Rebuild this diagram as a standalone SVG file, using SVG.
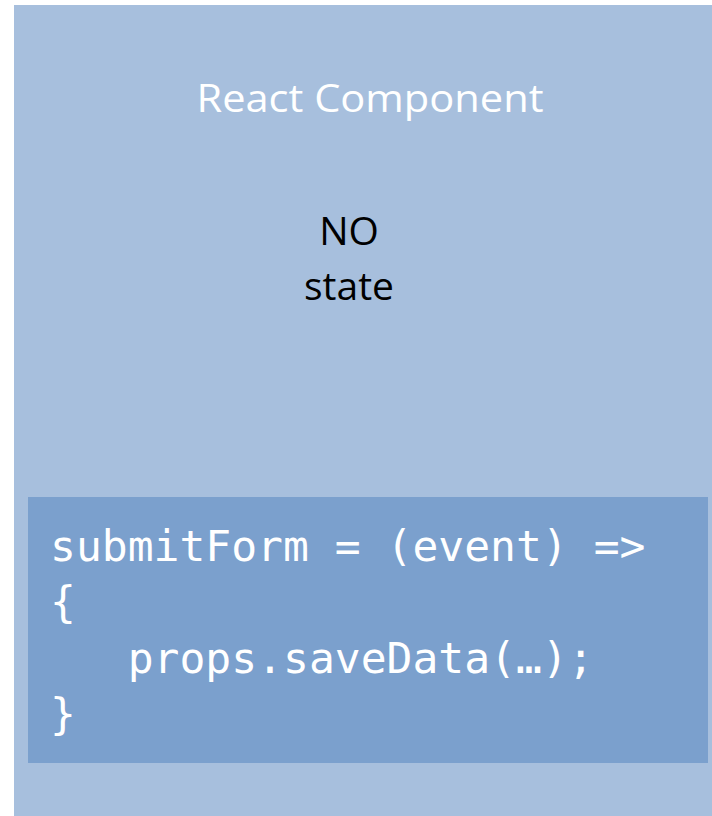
<svg xmlns="http://www.w3.org/2000/svg" width="712" height="816" viewBox="0 0 712 816">
<style>
.title{font-family:"Open Sans","Noto Sans",sans-serif;font-size:39px;fill:#ffffff}
.label{font-family:"Open Sans","Noto Sans",sans-serif;font-size:39px;fill:#000000}
.code{font-family:"DejaVu Sans Mono","Liberation Mono",monospace;font-size:43px;fill:#ffffff}
</style>
<rect width="712" height="816" fill="#ffffff"/>
<g id="component">
<rect x="14" y="5" width="698" height="811" fill="#A7BFDD"/>
<text class="title" x="370" y="112" text-anchor="middle" textLength="347" lengthAdjust="spacingAndGlyphs">React Component</text>
<text class="label" x="349" y="245" text-anchor="middle">NO</text>
<text class="label" x="349" y="300" text-anchor="middle">state</text>
</g>
<g id="method">
<rect x="28" y="497" width="680" height="266" fill="#7BA0CD"/>
<text class="code" x="50" y="561" xml:space="preserve">submitForm = (event) =&gt;</text>
<text class="code" x="50" y="617">{</text>
<text class="code" x="50" y="673" xml:space="preserve">   props.saveData(…);</text>
<text class="code" x="50" y="729">}</text>
</g>
<g id="connectors"/>
</svg>
